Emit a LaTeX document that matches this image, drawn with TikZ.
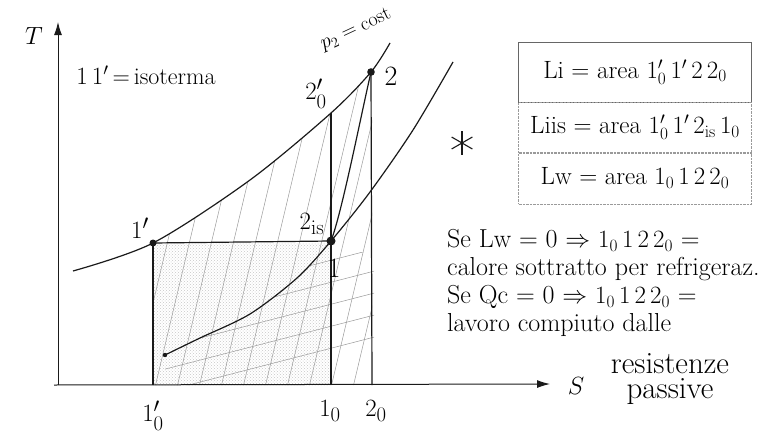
\documentclass[tikz,border=0pt]{standalone}
\usepackage{amsmath,amssymb}
\usetikzlibrary{arrows.meta,positioning,calc,patterns}
\definecolor{ink}{HTML}{1A1A1A}
\definecolor{pencil}{HTML}{9A9A9A}

\begin{document}
\begin{tikzpicture}[x=1pt,y=-1pt,>=Latex,
    lbl/.style={font=\fontsize{28}{30}\selectfont,inner sep=1pt},
    axislbl/.style={font=\fontsize{42}{42}\selectfont,inner sep=1pt},
    note/.style={font=\fontsize{26}{28}\selectfont,align=left,inner sep=0pt},
    sidenote/.style={font=\fontsize{31}{25}\selectfont,align=center,inner sep=0pt},
    areabox/.style={draw=pencil,densely dotted,minimum width=233pt,
                    font=\fontsize{25}{27}\selectfont},
    hatch/.style={pencil,line width=0.5pt},
    curve/.style={ink,line width=1.2pt}]
    \useasboundingbox (0,0) rectangle (773,439);

    % Key states of the cycle.
    \coordinate (o) at (58,385);
    \coordinate (tTop) at (58,22);
    \coordinate (sEnd) at (550,384);
    \coordinate (sStart) at (54,385);
    \coordinate (p1s) at (153,243);
    \coordinate (p1) at (331,241);
    \coordinate (p2) at (371,72);
    \coordinate (p2op) at (331,113);
    \coordinate (p1op) at (153,385);
    \coordinate (p1o) at (331,385);
    \coordinate (p2o) at (372,385);
    \coordinate (lowEnd) at (165,355);

    % Hatched areas first so the lines sit above them.
    \fill[pattern=crosshatch dots,pattern color=black!22] (p1s) rectangle (p1o);
    \begin{scope}
      \clip (153,0) rectangle (372,385);
      \clip plot[smooth] coordinates {(73,271) (p1s) (250,180) (p2op) (p2) (390,43)}
        -- (400,385) -- (60,385) -- cycle;
      \foreach \i in {0,...,16}
        \draw[hatch] (130+\i*22,400) -- ++(95,-400);
    \end{scope}
    \begin{scope}
      \clip (160,252) rectangle (374,385);
      \clip plot[smooth] coordinates {(lowEnd) (200,338) (250,314) (297,278) (p1) (370,192) (413,130) (453,62)}
        -- (460,385) -- (165,385) -- cycle;
      \foreach \i in {0,...,10}
        \draw[hatch] (150,395-\i*22) -- ++(240,-62);
    \end{scope}

    % Axes.
    \draw[ink,line width=1pt,-{Latex[length=13pt,width=8pt]}] (o) -- (tTop);
    \draw[ink,line width=1pt,-{Latex[length=13pt,width=8pt]}] (sStart) -- (sEnd);

    % Isobars and transformations.
    \draw[curve] plot[smooth] coordinates {(73,271) (p1s) (250,180) (p2op) (p2) (390,43)};
    \draw[curve] plot[smooth] coordinates {(lowEnd) (200,338) (250,314) (297,278) (p1) (370,192) (413,130) (453,62)};
    \draw[curve] (p1s) -- (p1);
    \draw[curve] (p1s) -- (p1op);
    \draw[curve] (p2op) -- (p1o);
    \draw[curve] (p2) -- (p2o);
    \draw[curve] (p1) .. controls (342,212) and (360,120) .. (p2);
    \fill[ink] (p1s) circle (3.5);
    \fill[ink] (p1) circle (4.5);
    \fill[ink] (p2) circle (3.8);
    \fill[ink] (lowEnd) circle (2.2);

    % Labels on the diagram.
    \node[axislbl] (lT) at (34,36) {$T$};
    \node[axislbl] (lS) at (576,386) {$S$};
    \node[lbl,font=\fontsize{24}{26}\selectfont] (liso) at (146,75) {$1\,1'$\,=\,isoterma};
    \node[lbl,font=\fontsize{20}{22}\selectfont,rotate=25] (lp2) at (356,30) {$p_2=\text{cost}$};
    \node[lbl] (l2op) at (316,94) {$2'_0$};
    \node[lbl] (l2) at (391,76) {2};
    \node[lbl] (l1s) at (140,228) {$1'$};
    \node[lbl] (l2is) at (312,224) {$2_{\mathrm{is}}$};
    \node[lbl] (l1) at (334,268) {1};
    \node[lbl] (l1op) at (153,416) {$1'_0$};
    \node[lbl] (l1o) at (330,411) {$1_0$};
    \node[lbl] (l2o) at (376,411) {$2_0$};

    % Area definitions.
    \node[areabox,draw=black!60,solid,minimum height=60pt] (bxi) at (635,72)
      {Li = area $1'_0\,1'\,2\,2_0$};
    \node[areabox,minimum height=50pt,below=0pt of bxi] (bxis)
      {Liis = area $1'_0\,1'\,2_{\mathrm{is}}\,1_0$};
    \node[areabox,minimum height=51pt,below=0pt of bxis] (bxw)
      {Lw = area $1_0\,1\,2\,2_0$};
    \coordinate (star) at (462,143);
    \foreach \a in {90,30,150}
      \draw[ink,line width=1.1pt] ($(star)+(\a:12pt)$) -- ($(star)+(\a+180:12pt)$);

    \node[note,anchor=north west] (rules) at (447,229)
      {Se Lw = 0 $\Rightarrow$ $1_0\,1\,2\,2_0$ =\\
       calore sottratto per refrigeraz.\\
       Se Qc = 0 $\Rightarrow$ $1_0\,1\,2\,2_0$ =\\
       lavoro compiuto dalle};
    \node[sidenote] (resist) at (670,379) {resistenze\\passive};
  \end{tikzpicture}
\end{document}
